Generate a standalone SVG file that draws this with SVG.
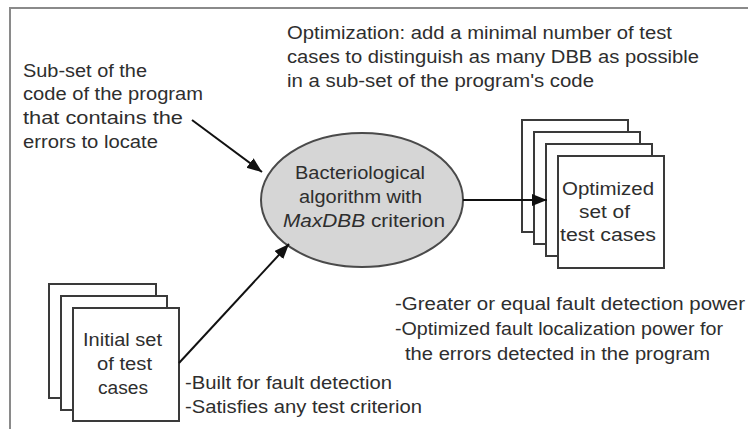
<svg xmlns="http://www.w3.org/2000/svg" width="748" height="429" viewBox="0 0 748 429">
<style>
text{font-family:"Liberation Sans",Arial,sans-serif;font-size:17.5px;fill:#2e2e2e}
.c{text-anchor:middle}
.page{fill:#fff;stroke:#3a3a3a;stroke-width:2}
.edge{stroke:#111;stroke-width:2;fill:none}
</style>
<defs>
<marker id="ah" markerUnits="userSpaceOnUse" markerWidth="16" markerHeight="14" refX="15" refY="6" orient="auto">
<path d="M0,0 L15,6 L0,12 Z" fill="#111"/>
</marker>
</defs>
<rect x="10" y="8" width="760" height="440" fill="#fff" stroke="#8a8a8a" stroke-width="2"/>
<g id="note-optimization">
<text x="287" y="39" textLength="385" lengthAdjust="spacingAndGlyphs">Optimization: add a minimal number of test</text>
<text x="287" y="63" textLength="412" lengthAdjust="spacingAndGlyphs">cases to distinguish as many DBB as possible</text>
<text x="287" y="87" textLength="307" lengthAdjust="spacingAndGlyphs">in a sub-set of the program's code</text>
</g>
<g id="note-subset">
<text x="23" y="77" textLength="124" lengthAdjust="spacingAndGlyphs">Sub-set of the</text>
<text x="23" y="100" textLength="180" lengthAdjust="spacingAndGlyphs">code of the program</text>
<text x="23" y="124" textLength="160" lengthAdjust="spacingAndGlyphs">that contains the</text>
<text x="23" y="148" textLength="135" lengthAdjust="spacingAndGlyphs">errors to locate</text>
</g>
<g id="algorithm">
<ellipse cx="362" cy="200" rx="101" ry="67" fill="#d6d6d6" stroke="#4a4a4a" stroke-width="2"/>
<text x="295" y="179" textLength="130" lengthAdjust="spacingAndGlyphs">Bacteriological</text>
<text x="299" y="203" textLength="123" lengthAdjust="spacingAndGlyphs">algorithm with</text>
<text x="283" y="227" textLength="162" lengthAdjust="spacingAndGlyphs"><tspan font-style="italic">MaxDBB</tspan>  criterion</text>
</g>
<g id="optimized-set">
<rect class="page" x="522" y="120" width="106" height="112"/>
<rect class="page" x="534" y="132" width="106" height="112"/>
<rect class="page" x="546" y="144" width="106" height="112"/>
<rect class="page" x="558" y="156" width="106" height="112"/>
<text x="562" y="195" textLength="92" lengthAdjust="spacingAndGlyphs">Optimized</text>
<text x="579" y="218" textLength="51" lengthAdjust="spacingAndGlyphs">set of</text>
<text x="560" y="241" textLength="96" lengthAdjust="spacingAndGlyphs">test cases</text>
</g>
<g id="initial-set">
<rect class="page" x="49" y="284" width="107" height="114"/>
<rect class="page" x="61" y="296" width="106" height="114"/>
<rect class="page" x="73" y="308" width="106" height="113"/>
<text x="83" y="346" textLength="79" lengthAdjust="spacingAndGlyphs">Initial set</text>
<text x="97" y="370" textLength="55" lengthAdjust="spacingAndGlyphs">of test</text>
<text x="98" y="394" textLength="50" lengthAdjust="spacingAndGlyphs">cases</text>
</g>
<g id="note-initial">
<text x="185" y="389" textLength="207" lengthAdjust="spacingAndGlyphs">-Built for fault detection</text>
<text x="185" y="413" textLength="237" lengthAdjust="spacingAndGlyphs">-Satisfies any test criterion</text>
</g>
<g id="note-result">
<text x="395" y="310" textLength="350" lengthAdjust="spacingAndGlyphs">-Greater or equal fault detection power</text>
<text x="395" y="335" textLength="328" lengthAdjust="spacingAndGlyphs">-Optimized fault localization power for</text>
<text x="405" y="360" textLength="305" lengthAdjust="spacingAndGlyphs">the errors detected in the program</text>
</g>
<g id="connectors">
<line class="edge" x1="192" y1="120" x2="262" y2="172" marker-end="url(#ah)"/>
<line class="edge" x1="179" y1="363" x2="289" y2="244" marker-end="url(#ah)"/>
<line class="edge" x1="463" y1="200" x2="547" y2="200" marker-end="url(#ah)"/>
</g>
</svg>
